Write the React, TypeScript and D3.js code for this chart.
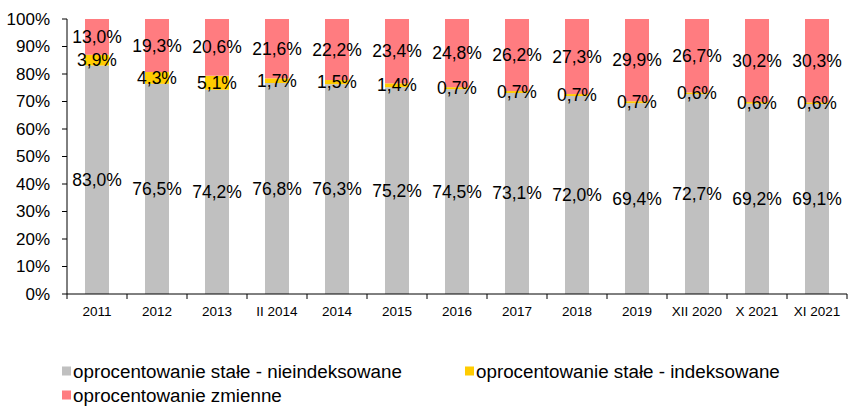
import React from "react";
import * as d3 from "d3";

const categories = ["2011","2012","2013","II 2014","2014","2015","2016","2017","2018","2019","XII 2020","X 2021","XI 2021"];
const fixedNonIndexed = [83.0,76.5,74.2,76.8,76.3,75.2,74.5,73.1,72.0,69.4,72.7,69.2,69.1];
const fixedIndexed = [3.9,4.3,5.1,1.7,1.5,1.4,0.7,0.7,0.7,0.7,0.6,0.6,0.6];
const variable = [13.0,19.3,20.6,21.6,22.2,23.4,24.8,26.2,27.3,29.9,26.7,30.2,30.3];
const seriesNames = ["oprocentowanie stałe - nieindeksowane","oprocentowanie stałe - indeksowane","oprocentowanie zmienne"];
const colors = ["#C0C0C0","#FFCC00","#FF7C80"];
const yTicks = [0,0.1,0.2,0.3,0.4,0.5,0.6,0.7,0.8,0.9,1];

const W = 859, H = 406;
const margin = { left: 67, right: 12, top: 19, bottom: 112 };

export default function App() {
  const x = d3.scaleBand<string>().domain(categories).range([margin.left, W - margin.right]).paddingInner(0.6).paddingOuter(0.3);
  const y = d3.scaleLinear().domain([0, 1]).range([H - margin.bottom, margin.top]);
  const rows = categories.map((c, i) => {
    const vals = [fixedNonIndexed[i], fixedIndexed[i], variable[i]];
    const total = d3.sum(vals);
    return { c, vals, total };
  });
  const fmt = (v: number) => v.toFixed(1).replace(".", ",") + "%";
  const step = x.step();
  const x0 = margin.left;
  const x1 = W - margin.right;
  const yb = y(0);
  const font = "Liberation Sans, Arial, sans-serif";
  return (
    <svg width={W} height={H} style={{ position: "absolute", left: 0, top: 0, fontFamily: font }}>
      {rows.map((r) => {
        let acc = 0;
        const bx = x(r.c)!;
        return (
          <g key={r.c}>
            {r.vals.map((v, s) => {
              const a = acc / r.total;
              acc += v;
              const b = acc / r.total;
              return <rect key={s} x={bx} width={x.bandwidth()} y={y(b)} height={y(a) - y(b)} fill={colors[s]} />;
            })}
          </g>
        );
      })}
      {rows.map((r) => {
        let acc = 0;
        const cx = x(r.c)! + x.bandwidth() / 2;
        return (
          <g key={"l" + r.c}>
            {r.vals.map((v, s) => {
              const a = acc / r.total;
              acc += v;
              const b = acc / r.total;
              return (
                <text key={s} x={cx} y={(y(a) + y(b)) / 2} textAnchor="middle" dominantBaseline="central" fontSize={17.5} fill="#000">
                  {fmt(v)}
                </text>
              );
            })}
          </g>
        );
      })}
      <line x1={x0} x2={x0} y1={y(1)} y2={yb} stroke="#000" strokeWidth={1} />
      {yTicks.map((t) => (
        <g key={t}>
          <line x1={x0 - 5} x2={x0} y1={y(t)} y2={y(t)} stroke="#000" />
          <text x={x0 - 17} y={y(t)} textAnchor="end" dominantBaseline="central" fontSize={17}>{Math.round(t * 100) + "%"}</text>
        </g>
      ))}
      <line x1={x0} x2={x1} y1={yb} y2={yb} stroke="#000" />
      {d3.range(categories.length + 1).map((i) => (
        <line key={i} x1={x0 + i * step} x2={x0 + i * step} y1={yb} y2={yb + 5} stroke="#000" />
      ))}
      {categories.map((c) => (
        <text key={c} x={x(c)! + x.bandwidth() / 2} y={yb + 17} textAnchor="middle" dominantBaseline="central" fontSize={13.5}>{c}</text>
      ))}
      {[{ s: 0, lx: 62, ly: 371 }, { s: 1, lx: 465, ly: 371 }, { s: 2, lx: 62, ly: 395 }].map(({ s, lx, ly }) => (
        <g key={s}>
          <rect x={lx} y={ly - 4.5} width={9} height={9} fill={colors[s]} />
          <text x={lx + 11} y={ly} dominantBaseline="central" fontSize={18.8}>{seriesNames[s]}</text>
        </g>
      ))}
    </svg>
  );
}
